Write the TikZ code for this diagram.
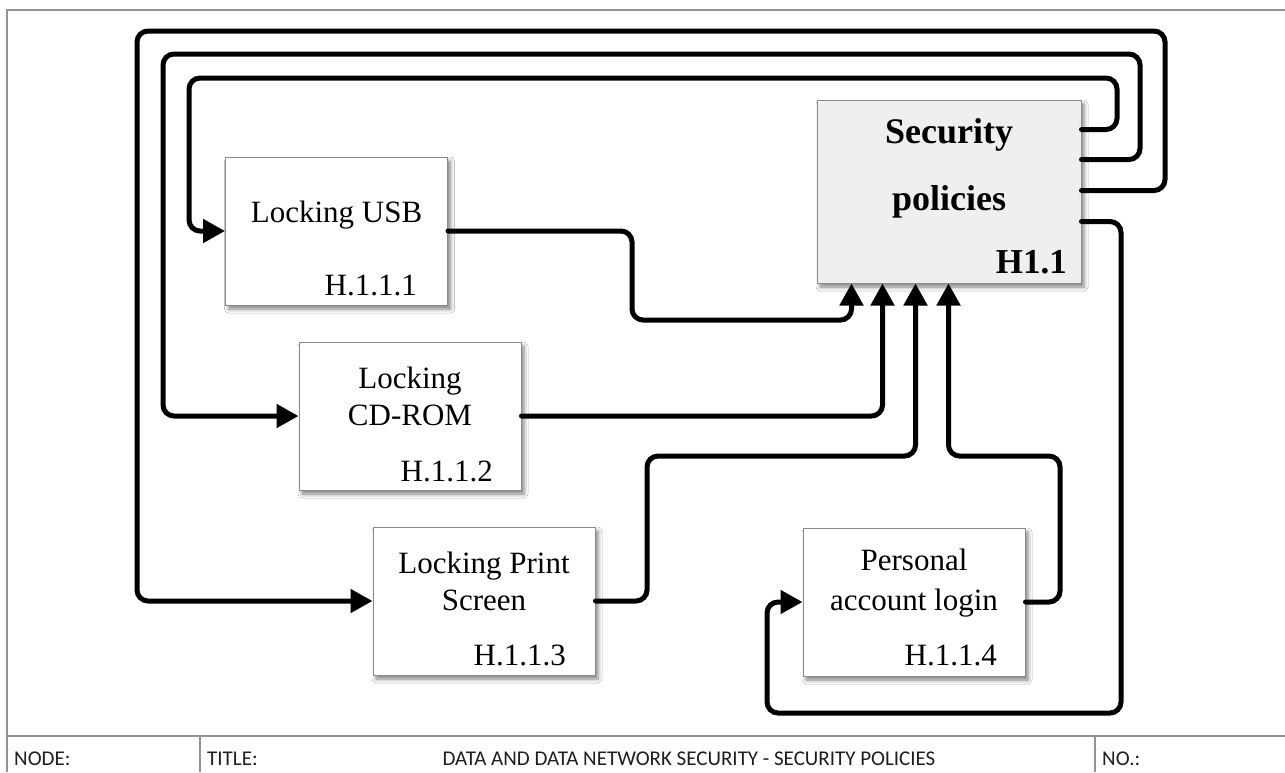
\documentclass[tikz,border=0pt]{standalone}
\usepackage{fontspec}
\setmainfont{Liberation Serif}
\newfontfamily\footfont{Carlito}
\usetikzlibrary{arrows.meta,calc,shadows.blur}

\definecolor{boxline}{HTML}{8A8A8A}
\definecolor{framegray}{HTML}{929292}
\definecolor{secfill}{HTML}{EFEFEF}
\definecolor{foottext}{HTML}{1E1E1E}

\begin{document}
\begin{tikzpicture}[x=1pt,y=-1pt,
  task/.style={draw=boxline, line width=1pt, fill=white,
    minimum width=222pt, minimum height=148pt, inner sep=0pt,
    blur shadow={shadow xshift=3pt, shadow yshift=-4pt,
      shadow blur radius=4pt, shadow opacity=50}},
  mainbox/.style={task, fill=secfill, minimum width=264pt, minimum height=183pt},
  flow/.style={line width=5pt, line cap=round, rounded corners=11pt,
    -{Triangle[length=22pt,width=23pt]}},
  lbl/.style={font=\fontsize{31}{36}\selectfont, inner sep=0pt, anchor=base},
  code/.style={lbl, anchor=base east},
  biglbl/.style={font=\fontsize{36}{40}\selectfont\bfseries, inner sep=0pt, anchor=base},
  bigcode/.style={biglbl, anchor=base east, font=\fontsize{35}{40}\selectfont\bfseries},
  frame/.style={draw=framegray, line width=1.2pt},
  foot/.style={font=\footfont\fontsize{21}{24}\selectfont, text=foottext,
    inner sep=0pt, anchor=base west}
]
\fill[white] (0,0) rectangle (1285,772);
\useasboundingbox (0,0) rectangle (1285,772);

% sheet frame and title strip
\draw[frame] (7,772) -- (7,10) -- (1285,10);
\draw[frame] (7,736) -- (1285,736);
\draw[frame] (200,736) -- (200,772);
\draw[frame] (1095,736) -- (1095,772);
\node[foot] (fnode) at (14,765) {NODE:};
\node[foot] (ftitlelbl) at (207,765) {TITLE:};
\node[foot, anchor=base] (ftitle) at (689,765) {DATA AND DATA NETWORK SECURITY - SECURITY POLICIES};
\node[foot] (fno) at (1102,765) {NO.:};

% boxes
\node[mainbox] (sec) at (949,191.5) {};
\node[task] (usb)  at (336.5,231) {};
\node[task] (cd)   at (410,416) {};
\node[task] (prt)  at (484,601) {};
\node[task] (pers) at (914,602) {};

% box texts
\node[biglbl] (secA) at (949,143) {Security};
\node[biglbl] (secB) at (949,210) {policies};
\node[bigcode] (secC) at (1067,273) {H1.1};

\node[lbl] (usbA) at (336.5,222) {Locking USB};
\node[code] (usbC) at (417,295) {H.1.1.1};

\node[lbl] (cdA) at (410,388) {Locking};
\node[lbl] (cdB) at (410,425) {CD-ROM};
\node[code] (cdC) at (493,481) {H.1.1.2};

\node[lbl] (prtA) at (484,573) {Locking Print};
\node[lbl] (prtB) at (484,610) {Screen};
\node[code] (prtC) at (566,665) {H.1.1.3};

\node[lbl] (persA) at (914,570) {Personal};
\node[lbl] (persB) at (914,610) {account login};
\node[code] (persC) at (997,665) {H.1.1.4};

% ports on the policy box
\coordinate (out1) at ($(sec.north east)+(0,30)$);
\coordinate (out2) at ($(sec.north east)+(0,60)$);
\coordinate (out3) at ($(sec.north east)+(0,91)$);
\coordinate (out4) at ($(sec.north east)+(0,122)$);
\coordinate (in1) at ($(sec.south west)+(35,0)$);
\coordinate (in2) at ($(sec.south west)+(66,0)$);
\coordinate (in3) at ($(sec.south west)+(99,0)$);
\coordinate (in4) at ($(sec.south west)+(132,0)$);

% feedback loops from the policy box
\draw[flow] (out1) -| (1117,78) -| (189,231) -- (usb.west);
\draw[flow] (out2) -| (1140,54) -| (163,416) -- (cd.west);
\draw[flow] (out3) -| (1165,31) -| (137,601) -- (prt.west);
\draw[flow] (out4) -| (1121,713) -| (767,602) -- (pers.west);

% inputs into the policy box
\draw[flow] (usb.east) -| (632,320) -| (in1);
\draw[flow] (cd.east) -| (in2);
\draw[flow] (prt.east) -| (647,456) -| (in3);
\draw[flow] (pers.east) -| (1060,456) -| (in4);
\end{tikzpicture}
\end{document}
